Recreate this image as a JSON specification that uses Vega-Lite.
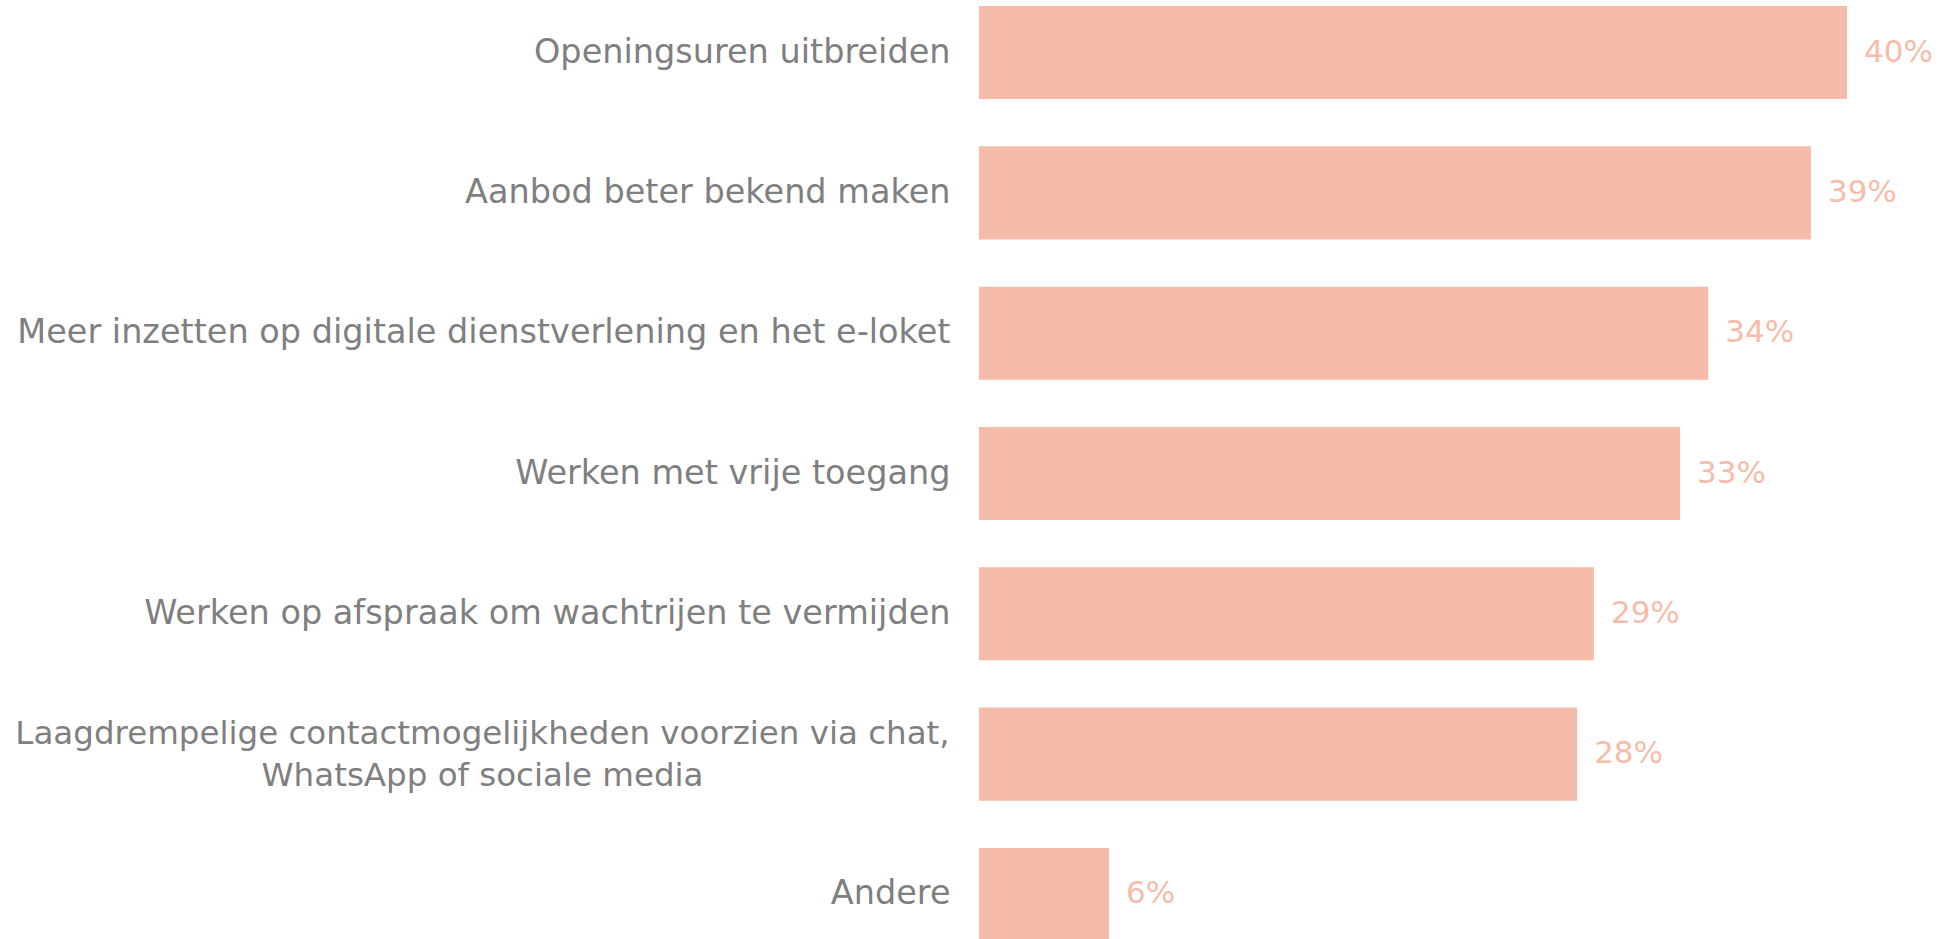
{
  "$schema": "https://vega.github.io/schema/vega-lite/v6.json",
  "autosize": {"type": "none"},
  "padding": {"left": 979, "top": 0, "right": 95, "bottom": 0},
  "width": 868,
  "height": 947,
  "background": "white",
  "config": {"view": {"stroke": null}},
  "data": {
    "values": [
      {"label": "Openingsuren uitbreiden", "share": 0.404},
      {"label": "Aanbod beter bekend maken", "share": 0.3872},
      {"label": "Meer inzetten op digitale dienstverlening en het e-loket", "share": 0.3394},
      {"label": "Werken met vrije toegang", "share": 0.3263},
      {"label": "Werken op afspraak om wachtrijen te vermijden", "share": 0.2862},
      {"label": "Laagdrempelige contactmogelijkheden voorzien via chat, WhatsApp of sociale media", "share": 0.2784},
      {"label": "Andere", "share": 0.0605}
    ]
  },
  "encoding": {
    "y": {
      "field": "label",
      "type": "nominal",
      "sort": null,
      "scale": {"paddingInner": 0.337, "paddingOuter": 0.043},
      "axis": {
        "title": null,
        "domain": false,
        "ticks": false,
        "labelFont": "DejaVu Sans",
        "labelFontSize": {"condition": {"test": "indexof(datum.value, 'Laag') == 0", "value": 32.5}, "value": 33.5},
        "labelColor": "#7F7F7F",
        "labelLimit": 0,
        "labelOverlap": false,
        "labelLineHeight": 42,
        "labelBaseline": "middle",
        "labelExpr": "indexof(datum.value, 'Laag') == 0 ? ['Laagdrempelige contactmogelijkheden voorzien via chat,', 'WhatsApp of sociale media'] : datum.label",
        "labelAlign": {"condition": {"test": "indexof(datum.value, 'Laag') == 0", "value": "center"}, "value": "right"},
        "labelPadding": {"condition": {"test": "indexof(datum.value, 'Laag') == 0", "value": 497}, "value": 29},
        "labelOffset": {"condition": {"test": "indexof(datum.value, 'Laag') == 0", "value": -20}, "value": 0}
      }
    },
    "x": {
      "field": "share",
      "type": "quantitative",
      "scale": {"domain": [0, 0.404], "nice": false},
      "axis": null
    }
  },
  "layer": [
    {"mark": {"type": "bar", "color": "#F7BCA9"}},
    {
      "mark": {"type": "text", "align": "left", "baseline": "middle", "dx": 17, "font": "DejaVu Sans", "fontSize": 31, "color": "#F7BCA9"},
      "encoding": {"text": {"field": "share", "type": "quantitative", "format": ".0%"}}
    }
  ]
}
